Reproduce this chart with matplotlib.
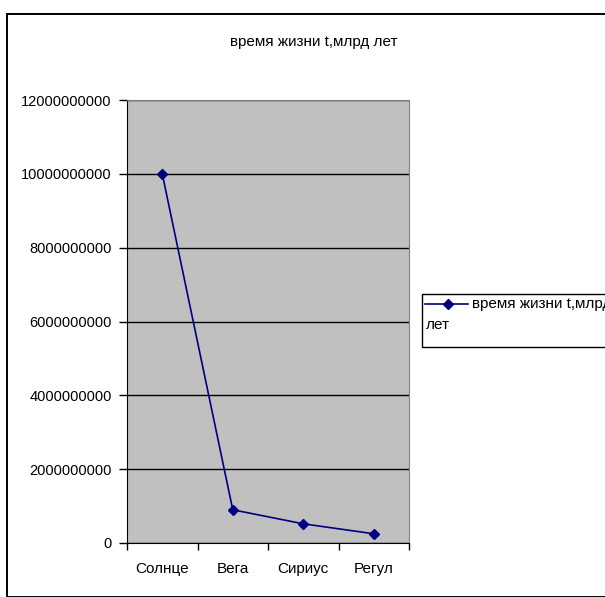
import matplotlib.pyplot as plt
from matplotlib.patches import Rectangle
from matplotlib.lines import Line2D

plt.rcParams['font.family'] = ['Liberation Sans', 'DejaVu Sans']

# данные: время жизни звёзд
stars = ['Солнце', 'Вега', 'Сириус', 'Регул']
lifetime = [10000000000, 900000000, 520000000, 250000000]
yticks = [0, 2000000000, 4000000000, 6000000000, 8000000000, 10000000000, 12000000000]
series_name = 'время жизни t,млрд лет'

W, H = 605, 597
fig = plt.figure(figsize=(W / 100, H / 100), dpi=100)

def fx(px):
    return px / W

def fy(py):
    return 1 - py / H

# рамка области диаграммы
fig.patches.append(Rectangle((fx(7), 0), 1.0, fy(14), transform=fig.transFigure,
                             fill=False, edgecolor='black', linewidth=1.4))

left, right, top, bottom = 127, 409, 100, 543
ax = fig.add_axes([fx(left), fy(bottom), (right - left) / W, (bottom - top) / H])
ax.set_facecolor('#c0c0c0')

x = list(range(len(stars)))
line, = ax.plot(x, lifetime, color='#000080', marker='D', markersize=5, linewidth=1.2,
                zorder=3)

ax.set_xlim(-0.5, len(stars) - 0.5)
ax.set_ylim(0, 12000000000)
ax.set_yticks(yticks)
ax.set_yticklabels([str(v) for v in yticks], fontsize=10.5)
ax.yaxis.grid(True, color='black', linewidth=1)
ax.set_axisbelow(True)

ax.set_xticks(x)
ax.set_xticklabels(stars, fontsize=11)
ax.set_xticks([i - 0.5 for i in range(len(stars) + 1)], minor=True)
ax.tick_params(axis='x', which='major', length=0, pad=14)
ax.tick_params(axis='x', which='minor', length=5, direction='out', width=1)
ax.tick_params(axis='y', length=6, direction='out', width=1, pad=5)

for side in ('top', 'right'):
    ax.spines[side].set_color('#808080')
for side in ('left', 'bottom'):
    ax.spines[side].set_color('black')

fig.text(fx(314), fy(42), series_name, ha='center', va='center', fontsize=11)

# легенда: ключ и подпись, перенесённая на вторую строку
fig.patches.append(Rectangle((fx(422), fy(347)), 1.0, (347 - 294) / H,
                             transform=fig.transFigure, facecolor='white',
                             edgecolor='black', linewidth=1))
fig.add_artist(Line2D([fx(425), fx(468)], [fy(304), fy(304)], transform=fig.transFigure,
                      color=line.get_color(), linewidth=1.2))
fig.add_artist(Line2D([fx(448)], [fy(304)], transform=fig.transFigure,
                      color=line.get_color(), marker='D', markersize=5))
fig.text(fx(472), fy(304), 'время жизни t,млрд', ha='left', va='center', fontsize=11)
fig.text(fx(426), fy(325), 'лет', ha='left', va='center', fontsize=11)

fig.savefig('out.png', dpi=100)
